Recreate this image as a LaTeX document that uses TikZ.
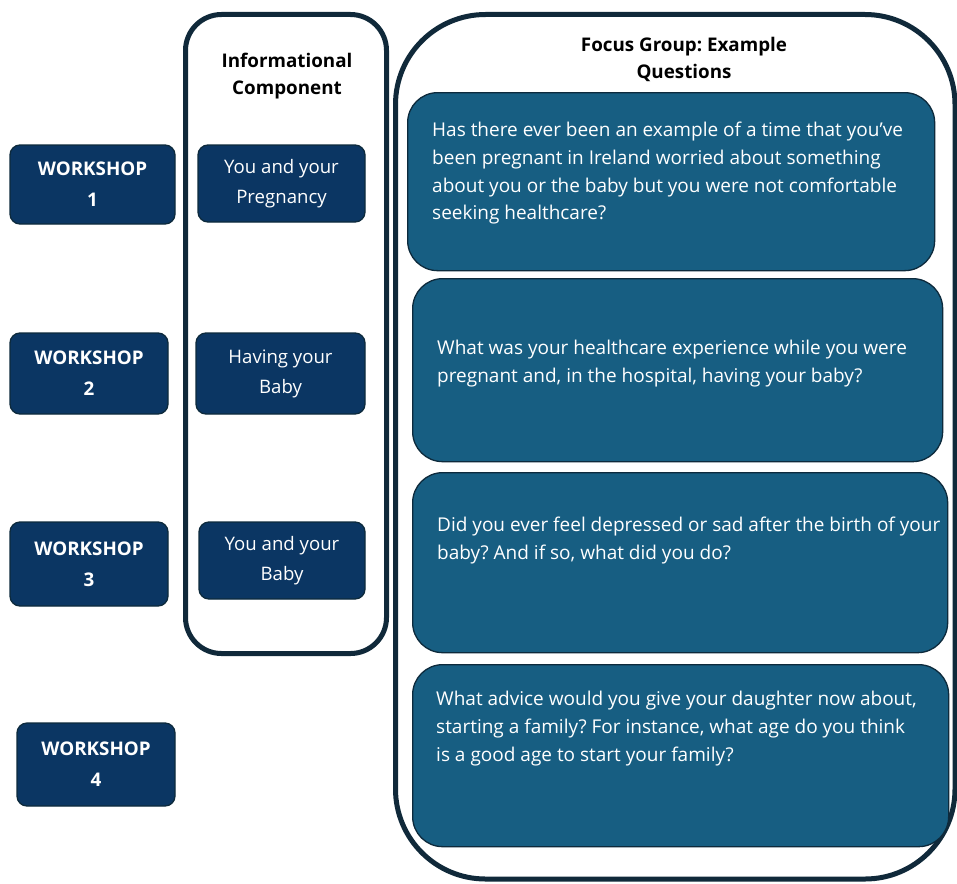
\documentclass[tikz,border=0pt]{standalone}
\usepackage{fontspec}
\setmainfont{Open Sans}
\frenchspacing
\definecolor{navy}{HTML}{0B3663}
\definecolor{qblue}{HTML}{175E82}
\definecolor{edge}{HTML}{0D2A3C}
\definecolor{frame}{HTML}{10293A}
\tikzset{
  wsbox/.style={draw=edge, line width=1.3pt, fill=navy, rounded corners=10pt, text=white,
    font=\fontsize{18.8}{31}\selectfont\bfseries, align=center, inner sep=0pt},
  infobox/.style={draw=edge, line width=1.3pt, fill=navy, rounded corners=10pt, text=white,
    font=\fontsize{18.6}{30}\selectfont, align=center, inner sep=0pt},
  qbox/.style={draw=edge, line width=1.3pt, fill=qblue, rounded corners=30pt, inner sep=0pt},
  qtext/.style={text=white, font=\fontsize{19}{27.7}\selectfont, align=left, anchor=north west, inner sep=0pt},
  title/.style={font=\fontsize{18.8}{27}\selectfont\bfseries, align=center, inner sep=0pt},
  frameline/.style={draw=frame, line width=5pt}
}
\begin{document}
\begin{tikzpicture}[x=1pt,y=-1pt]
\useasboundingbox[fill=white] (0,0) rectangle (957,883);
% frames
\draw[frameline, rounded corners=36pt] (185.5,14.5) rectangle (386.5,653.5);
\draw[frameline, rounded corners=90pt] (395.5,14.5) rectangle (955,879);
% titles
\node[title] (t1) at (287,76.5) {Informational\\Component};
\node[title] (t2) at (684,59.5) {Focus Group: Example\\Questions};
% workshops
\node[wsbox, minimum width=165pt, minimum height=79pt] (w1) at (92.5,184.5) {WORKSHOP\\1};
\node[wsbox, minimum width=158pt, minimum height=81pt] (w2) at (89,373.5) {WORKSHOP\\2};
\node[wsbox, minimum width=158pt, minimum height=84pt] (w3) at (89,564) {WORKSHOP\\3};
\node[wsbox, minimum width=158pt, minimum height=83pt] (w4) at (96,764.5) {WORKSHOP\\4};
% info
\node[infobox, minimum width=167pt, minimum height=77pt] (i1) at (281.5,183.5) {You and your\\Pregnancy};
\node[infobox, minimum width=169pt, minimum height=81pt] (i2) at (280.5,373.5) {Having your\\Baby};
\node[infobox, minimum width=166pt, minimum height=77pt] (i3) at (282,560.5) {You and your\\Baby};
% questions
\node[qbox, minimum width=527pt, minimum height=178pt, anchor=north west] (q1) at (407,92) {};
\node[qbox, minimum width=530pt, minimum height=183pt, anchor=north west] (q2) at (412,278) {};
\node[qbox, minimum width=535pt, minimum height=180pt, anchor=north west] (q3) at (412,472) {};
\node[qbox, minimum width=536pt, minimum height=182pt, anchor=north west] (q4) at (412,664) {};
\node[qtext] (q1t) at (432,122) {Has there ever been an example of a time that you've\\been pregnant in Ireland worried about something\\about you or the baby but you were not comfortable\\seeking healthcare?};
\node[qtext] (q2t) at (437,340) {What was your healthcare experience while you were\\pregnant and, in the hospital, having your baby?};
\node[qtext] (q3t) at (437,517) {Did you ever feel depressed or sad after the birth of your\\baby? And if so, what did you do?};
\node[qtext] (q4t) at (436,691) {What advice would you give your daughter now about,\\starting a family? For instance, what age do you think\\is a good age to start your family?};
\end{tikzpicture}
\end{document}
